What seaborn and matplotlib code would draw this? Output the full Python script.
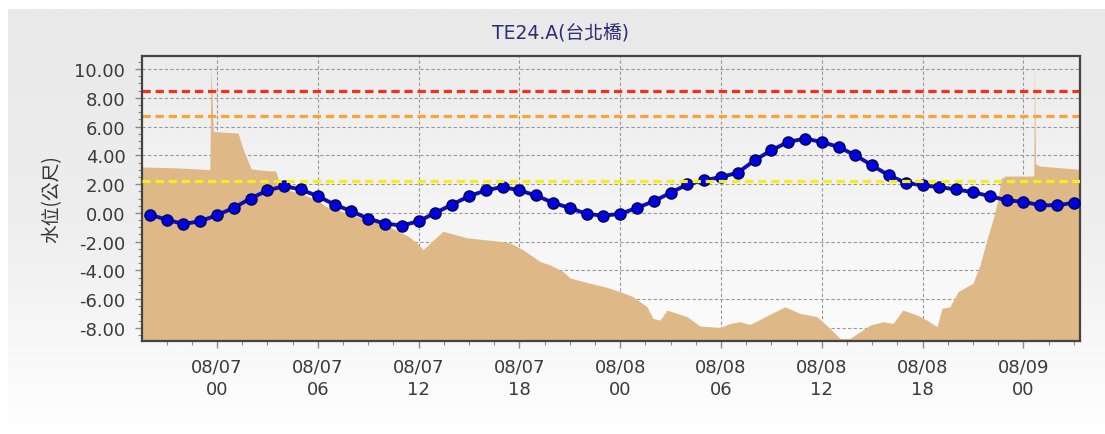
import numpy as np
import pandas as pd
import matplotlib
matplotlib.use("Agg")
import matplotlib.pyplot as plt
import matplotlib.dates as mdates
from matplotlib.ticker import MultipleLocator, FixedLocator
from matplotlib.colors import LinearSegmentedColormap
import seaborn as sns

# ---------------- data ----------------
title_text = "TE24.A(台北橋)"
y_label = "水位(公尺)"
start_time = "2015-08-06 20:00"
level_values = [-0.12, -0.47, -0.77, -0.58, -0.16, 0.35, 1.00, 1.56, 1.86, 1.63,
                1.16, 0.58, 0.12, -0.40, -0.74, -0.88, -0.58, 0.00, 0.58, 1.16,
                1.56, 1.81, 1.56, 1.21, 0.70, 0.35, -0.07, -0.19, -0.07, 0.35,
                0.81, 1.40, 1.98, 2.26, 2.49, 2.79, 3.65, 4.35, 4.93, 5.16,
                4.93, 4.58, 4.00, 3.30, 2.60, 2.09, 1.91, 1.79, 1.63, 1.44,
                1.16, 0.88, 0.77, 0.53, 0.53, 0.70]

# background area series (hours relative to 08/07 00:00, level)
area_base = "2015-08-07 00:00"
area_hours = [-4.46, -2.74, -1.73, -0.71, -0.42, -0.35, -0.22, 1.25, 1.60, 2.04,
              2.86, 3.50, 3.75, 3.93, 4.10, 5.10, 6.10, 6.43, 7.40, 8.40,
              9.40, 10.40, 11.40, 12.00, 12.26, 13.45, 14.88, 16.85, 17.44, 18.21,
              19.23, 19.82, 20.60, 21.01, 22.02, 23.21, 23.99, 24.76, 25.60, 25.95,
              26.37, 26.79, 27.38, 27.98, 28.75, 29.94, 30.54, 31.13, 31.73, 32.74,
              33.81, 34.70, 35.71, 36.49, 37.08, 37.68, 38.27, 38.87, 39.64, 40.24,
              40.83, 41.67, 42.26, 42.86, 43.15, 43.63, 44.11, 44.64, 45.00, 45.42,
              45.83, 46.19, 46.49, 46.67, 46.96, 48.57, 48.62, 48.66, 48.72, 48.99,
              51.13, 51.37]
area_levels = [3.19, 3.14, 3.09, 3.02, 3.00, 10.10, 5.65, 5.55, 4.30, 3.05,
               2.95, 2.90, 1.90, 1.75, 1.63, 1.30, 0.80, 0.47, 0.12, -0.28,
               -0.58, -1.05, -1.63, -2.20, -2.56, -1.28, -1.73, -1.98, -2.08, -2.56,
               -3.38, -3.61, -4.07, -4.52, -4.84, -5.17, -5.47, -5.82, -6.52, -7.33,
               -7.45, -6.75, -6.98, -7.21, -7.86, -7.96, -7.68, -7.56, -7.75, -7.15,
               -6.52, -6.98, -7.21, -8.03, -8.72, -8.72, -8.26, -7.80, -7.56, -7.68,
               -6.75, -7.10, -7.45, -7.91, -6.63, -6.52, -5.47, -5.12, -4.89, -3.61,
               -1.86, -0.47, 0.93, 2.40, 2.56, 2.56, 2.60, 10.50, 3.40, 3.25,
               3.05, 3.00]

threshold_levels = [8.49, 6.72, 2.21]
threshold_colors = ["#f0321c", "#f8a436", "#f0f020"]

x_tick_times = ["2015-08-07 00:00", "2015-08-07 06:00", "2015-08-07 12:00",
                "2015-08-07 18:00", "2015-08-08 00:00", "2015-08-08 06:00",
                "2015-08-08 12:00", "2015-08-08 18:00", "2015-08-09 00:00"]
x_tick_labels = ["08/07\n00", "08/07\n06", "08/07\n12", "08/07\n18", "08/08\n00",
                 "08/08\n06", "08/08\n12", "08/08\n18", "08/09\n00"]
y_ticks = [10, 8, 6, 4, 2, 0, -2, -4, -6, -8]
x_limits_hours = [-4.46, 51.37]
y_limits = [-8.9, 10.9]

# ---------------- build frames ----------------
times = pd.date_range(start_time, periods=len(level_values), freq="h")
df = pd.DataFrame({"time": times, "level": level_values})
a_base = pd.Timestamp(area_base)
area_times = a_base + pd.to_timedelta(area_hours, unit="h")
area_df = pd.DataFrame({"time": area_times, "level": area_levels})

# ---------------- figure ----------------
sns.set_theme(style="white")
plt.rcParams["font.family"] = ["DejaVu Sans", "Noto Sans CJK TC"]

W, H = 1105, 435
fig = plt.figure(figsize=(W / 100, H / 100), dpi=100)
fig.patch.set_facecolor("white")

# panel gradient background
bg = fig.add_axes([8 / W, 0, 1 - 8 / W, 1 - 10 / H], zorder=-5)
grad = np.linspace(0, 1, 256).reshape(-1, 1)
panel_cmap = LinearSegmentedColormap.from_list(
    "panel", [(0, "#e9e9e9"), (0.5, "#eeeeee"), (1, "#ffffff")])
bg.imshow(grad, aspect="auto", cmap=panel_cmap, extent=[0, 1, 0, 1])
bg.axis("off")

L, R, T, B = 142, 1080, 57, 342
pos = [L / W, 1 - B / H, (R - L) / W, (B - T) / H]
pbg = fig.add_axes(pos, zorder=-1)
plot_cmap = LinearSegmentedColormap.from_list(
    "plot", [(0, "#ececec"), (1, "#fcfcfc")])
pbg.imshow(grad, aspect="auto", cmap=plot_cmap, extent=[0, 1, 0, 1])
pbg.axis("off")

ax = fig.add_axes(pos)
ax.patch.set_alpha(0)

# area
ax.fill_between(area_df["time"], area_df["level"], y_limits[0] - 5,
                color="#deb887", linewidth=0, zorder=1)

# thresholds
for lvl, col in zip(threshold_levels, threshold_colors):
    z = 4 if lvl < 3 else 2
    ax.axhline(lvl, color=col, lw=2.3, dashes=(2.6, 1.5), zorder=z)

# water level line
sns.lineplot(data=df, x="time", y="level", ax=ax, color="#0d0dc0", lw=2.8,
             marker="o", markersize=8, markerfacecolor="#0000e0",
             markeredgecolor="#00004a", markeredgewidth=1.0, zorder=3)

# axes limits & ticks
x0 = a_base + pd.Timedelta(hours=x_limits_hours[0])
x1 = a_base + pd.Timedelta(hours=x_limits_hours[1])
ax.set_xlim(x0, x1)
ax.set_ylim(*y_limits)

tick_nums = mdates.date2num(pd.to_datetime(x_tick_times))
ax.xaxis.set_major_locator(FixedLocator(tick_nums))
ax.set_xticklabels(x_tick_labels, linespacing=1.3)
ax.xaxis.set_minor_locator(MultipleLocator(1.5 / 24))
ax.set_yticks(y_ticks)
ax.set_yticklabels([f"{v:.2f}" for v in y_ticks])
ax.yaxis.set_minor_locator(MultipleLocator(0.5))

ax.tick_params(axis="both", which="both", direction="out", color="#8a8a8a",
               labelcolor="#3a3a3a", labelsize=13)
ax.tick_params(axis="both", which="major", length=5, width=1)
ax.tick_params(axis="both", which="minor", length=3, width=0.8)
ax.tick_params(axis="x", which="both", bottom=True, pad=7)
ax.tick_params(axis="y", which="both", left=True, pad=7)

ax.set_axisbelow(True)
ax.grid(True, which="major", color="#9a9a9a", linestyle=(0, (3, 2)), linewidth=0.8)

for sp in ax.spines.values():
    sp.set_visible(True)
    sp.set_color("#444444")
    sp.set_linewidth(1.6)

ax.set_xlabel("")
ax.set_ylabel(y_label, fontsize=13.5, color="#333333",
              family=["Noto Sans CJK TC", "DejaVu Sans"])
ax.yaxis.set_label_coords(-0.085, 0.5)

fig.text(560 / W, 1 - 33 / H, title_text, ha="center", va="center",
         fontsize=13.5, color="#2e2e72",
         family=["DejaVu Sans", "Noto Sans CJK TC"])

fig.savefig("out.png", dpi=100)
